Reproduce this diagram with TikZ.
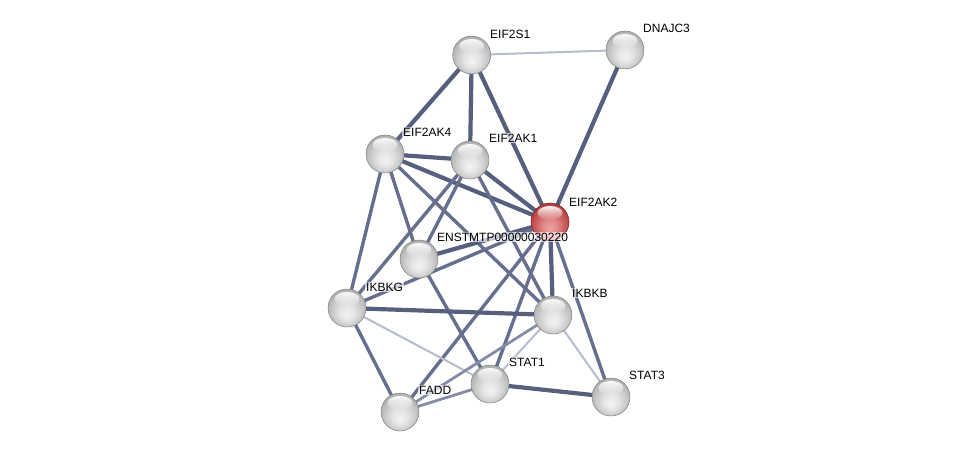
\documentclass[tikz,border=0pt]{standalone}
\usepackage{fontspec}
\setmainfont{Liberation Sans}
\usetikzlibrary{fadings}
\definecolor{gA}{RGB}{244,244,244}
\definecolor{gB}{RGB}{228,228,228}
\definecolor{gC}{RGB}{206,206,206}
\definecolor{gD}{RGB}{180,180,180}
\definecolor{gE}{RGB}{150,150,150}
\definecolor{rA}{RGB}{236,165,165}
\definecolor{rB}{RGB}{226,135,135}
\definecolor{rC}{RGB}{206,98,98}
\definecolor{rD}{RGB}{182,66,66}
\definecolor{rE}{RGB}{150,42,42}
\definecolor{edgeA}{RGB}{86,96,126}
\definecolor{edgeB}{RGB}{102,112,142}
\definecolor{edgeC}{RGB}{132,140,168}
\definecolor{edgeD}{RGB}{182,188,206}
\pgfdeclareradialshading{sphgray}{\pgfpoint{0bp}{-9bp}}{color(0bp)=(gA); color(10bp)=(gB); color(18bp)=(gC); color(26bp)=(gD); color(34bp)=(gE); color(40bp)=(gE)}
\pgfdeclareradialshading{sphred}{\pgfpoint{0bp}{-9bp}}{color(0bp)=(rA); color(10bp)=(rB); color(18bp)=(rC); color(26bp)=(rD); color(34bp)=(rE); color(40bp)=(rE)}
\tikzfading[name=hlfade, top color=transparent!0, bottom color=transparent!100]
\tikzset{
  ball/.style={circle, minimum size=38pt, inner sep=0pt, shading=sphgray, draw=black!50, line width=0.5pt},
  redball/.style={ball, shading=sphred, draw=rE!80!black},
  lab/.style={anchor=west, font=\fontsize{12}{12}\selectfont, fill=white, fill opacity=0.65, text opacity=1, inner sep=1pt},
  eA/.style={draw=edgeA, line width=4.2pt},
  eB/.style={draw=edgeB, line width=3.4pt},
  eC/.style={draw=edgeC, line width=2.8pt},
  eD/.style={draw=edgeD, line width=2pt},
}
\newcommand\hilite[1]{\fill[white, fill opacity=0.95, path fading=hlfade] ([yshift=9pt]#1.center) ellipse [x radius=12.5pt, y radius=7pt];}
\begin{document}
\begin{tikzpicture}[x=1pt, y=-1pt]
\useasboundingbox (0,0) rectangle (976,457);
% node coordinates
\coordinate (p1) at (471.7,55);
\coordinate (p2) at (625,50);
\coordinate (p3) at (385,154);
\coordinate (p4) at (470,160);
\coordinate (p5) at (550,222);
\coordinate (p6) at (419,259);
\coordinate (p7) at (347,308);
\coordinate (p8) at (553,315);
\coordinate (p9) at (490,384);
\coordinate (p10) at (400,412);
\coordinate (p11) at (611,397);
% edges
\path[eD] (p1) -- (p2);
\path[eA] (p1) -- (p3);
\path[eA] (p1) -- (p4);
\path[eA] (p1) -- (p5);
\path[eA] (p2) -- (p5);
\path[eA] (p3) -- (p4);
\path[eA] (p3) -- (p5);
\path[eB] (p3) -- (p7);
\path[eB] (p3) -- (p6);
\path[eB] (p3) -- (p8);
\path[eA] (p4) -- (p5);
\path[eB] (p4) -- (p7);
\path[eB] (p4) -- (p6);
\path[eB] (p4) -- (p8);
\path[eA] (p5) -- (p6);
\path[eB] (p7) -- (p5);
\path[eA] (p5) -- (p8);
\path[eB] (p5) -- (p10);
\path[eB] (p5) -- (p9);
\path[eB] (p5) -- (p11);
\path[eB] (p6) -- (p9);
\path[eA] (p7) -- (p8);
\path[eD] (p7) -- (p9);
\path[eB] (p7) -- (p10);
\path[eC] (p10) -- (p8);
\path[eC] (p10) -- (p9);
\path[eD] (p8) -- (p9);
\path[eD] (p8) -- (p11);
\path[eA] (p9) -- (p11);
% nodes
\node[ball] (eif2s1) at (p1) {};
\node[ball] (dnajc3) at (p2) {};
\node[ball] (eif2ak4) at (p3) {};
\node[ball] (eif2ak1) at (p4) {};
\node[redball] (eif2ak2) at (p5) {};
\node[ball] (enst) at (p6) {};
\node[ball] (ikbkg) at (p7) {};
\node[ball] (ikbkb) at (p8) {};
\node[ball] (stat1) at (p9) {};
\node[ball] (fadd) at (p10) {};
\node[ball] (stat3) at (p11) {};
\foreach \n in {eif2s1,dnajc3,eif2ak4,eif2ak1,eif2ak2,enst,ikbkg,ikbkb,stat1,fadd,stat3}{\hilite{\n}}
% labels
\node[lab] (l1) at (489,34) {EIF2S1};
\node[lab] (l2) at (642,28) {DNAJC3};
\node[lab] (l3) at (402,132) {EIF2AK4};
\node[lab] (l4) at (488,138) {EIF2AK1};
\node[lab] (l5) at (568,202) {EIF2AK2};
\node[lab] (l6) at (436,237) {ENSTMTP00000030220};
\node[lab] (l7) at (365,287) {IKBKG};
\node[lab] (l8) at (571,293) {IKBKB};
\node[lab] (l9) at (508,362) {STAT1};
\node[lab] (l10) at (418,390) {FADD};
\node[lab] (l11) at (628,375) {STAT3};
\end{tikzpicture}
\end{document}
